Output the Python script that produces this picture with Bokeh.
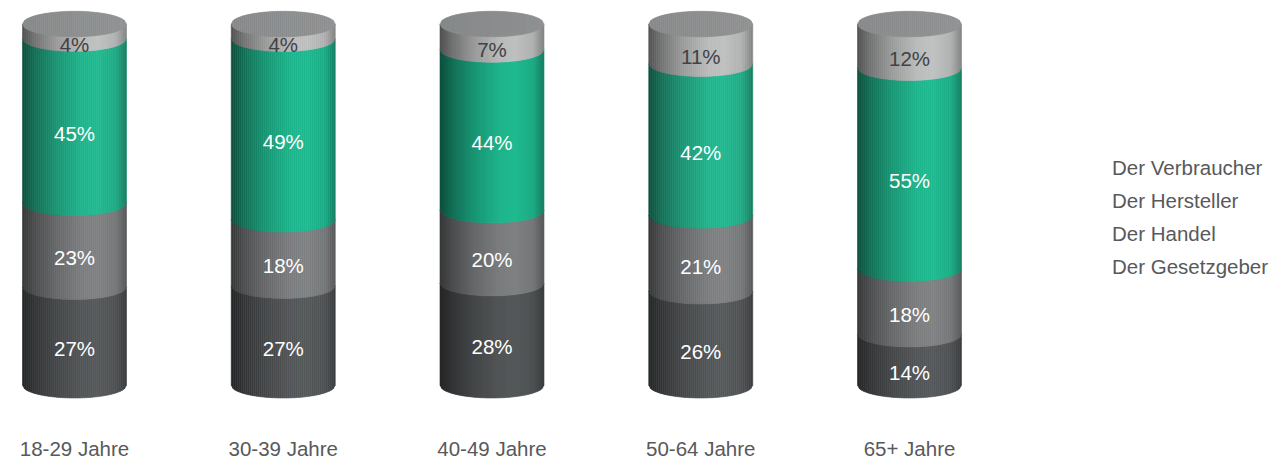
import math

from bokeh.core.properties import value
from bokeh.embed import file_html
from bokeh.models import ColumnDataSource, FixedTicker, Legend, LegendItem, Range1d
from bokeh.plotting import figure
from bokeh.resources import INLINE

age_groups = ["18-29 Jahre", "30-39 Jahre", "40-49 Jahre", "50-64 Jahre", "65+ Jahre"]
series_names = ["Der Gesetzgeber", "Der Handel", "Der Hersteller", "Der Verbraucher"]
gesetzgeber = [27, 27, 28, 26, 14]
handel = [23, 18, 20, 21, 18]
hersteller = [45, 49, 44, 42, 55]
verbraucher = [4, 4, 7, 11, 12]
series_values = [gesetzgeber, handel, hersteller, verbraucher]

series_colors = ["#55585a", "#7f8183", "#1fba90", "#bfc0c0"]
legend_colors = ["#58595b", "#7b7c7e", "#1fba90", "#b4b6b6"]
label_colors = ["#ffffff", "#ffffff", "#ffffff", "#404244"]
text_color = "#58595b"
font = "Liberation Sans"
font_px = "20.5px"

WIDTH, HEIGHT = 1271, 462
FRAME_H = 430
PX_PER_GROUP = 208.75
PX_PER_PCT = 3.69
FIRST_CENTER_PX = 74
ZERO_PX = 393
HALF_W = 52 / PX_PER_GROUP     # cylinder half width, in group units
CAP_B = 13 / PX_PER_PCT        # semi-minor axis of the elliptical rims, in percent
STRIPS = 52

# brightness across a cylinder, from left rim to right rim
SHADE = [(-1.0, 0.42), (-0.75, 0.60), (-0.35, 0.80), (0.15, 0.97),
         (0.45, 1.0), (0.8, 0.92), (1.0, 0.68)]


def shade(u):
    for (u0, s0), (u1, s1) in zip(SHADE, SHADE[1:]):
        if u <= u1:
            return s0 + (s1 - s0) * (u - u0) / (u1 - u0)
    return SHADE[-1][1]


def tint(color, factor):
    rgb = [int(color[i:i + 2], 16) for i in (1, 3, 5)]
    return "#%02x%02x%02x" % tuple(min(255, round(c * factor)) for c in rgb)


def rim(u):
    return CAP_B * math.sqrt(max(0.0, 1 - u * u))


p = figure(
    width=WIDTH, height=HEIGHT, output_backend="svg", toolbar_location=None,
    x_range=Range1d(-FIRST_CENTER_PX / PX_PER_GROUP, (WIDTH - FIRST_CENTER_PX) / PX_PER_GROUP),
    y_range=Range1d(-(FRAME_H - ZERO_PX) / PX_PER_PCT, ZERO_PX / PX_PER_PCT),
    min_border=0, min_border_bottom=HEIGHT - FRAME_H, outline_line_color=None,
    background_fill_color="white", border_fill_color="white",
)
p.grid.visible = False
p.yaxis.visible = False

xs, ys, fills = [], [], []
label_x, label_y, label_text, label_color = [], [], [], []

for g in range(len(age_groups)):
    values = [s[g] for s in series_values]
    total = sum(values)
    base = 0.0
    for k, v in enumerate(values):
        top = base + v * 100 / total
        for i in range(STRIPS):
            u0 = -1 + 2 * i / STRIPS
            u1 = -1 + 2 * (i + 1) / STRIPS
            x0, x1 = g + u0 * HALF_W, g + u1 * HALF_W
            xs.append([x0, x1, x1, x0])
            ys.append([base - rim(u0), base - rim(u1), top - rim(u1), top - rim(u0)])
            fills.append(tint(series_colors[k], shade((u0 + u1) / 2)))
        label_x.append(g)
        label_y.append((base + top) / 2 - CAP_B)
        label_text.append(f"{v}%")
        label_color.append(label_colors[k])
        base = top
    # top cap of the cylinder
    for i in range(STRIPS):
        u0 = -1 + 2 * i / STRIPS
        u1 = -1 + 2 * (i + 1) / STRIPS
        x0, x1 = g + u0 * HALF_W, g + u1 * HALF_W
        xs.append([x0, x1, x1, x0])
        ys.append([100 - rim(u0), 100 - rim(u1), 100 + rim(u1), 100 + rim(u0)])
        fills.append(tint("#8f9192", 0.97 + 0.03 * (u0 + u1) / 2))

p.patches(xs="xs", ys="ys", fill_color="fills", line_color="fills", line_width=0.6,
          source=ColumnDataSource(dict(xs=xs, ys=ys, fills=fills)))

p.text(x="x", y="y", text="t", text_color="c", text_align="center", text_baseline="middle",
       text_font=value(font), text_font_size=value(font_px),
       source=ColumnDataSource(dict(x=label_x, y=label_y, t=label_text, c=label_color)))

# category labels along the bottom
axis = p.xaxis[0]
axis.ticker = FixedTicker(ticks=list(range(len(age_groups))))
axis.major_label_overrides = dict(enumerate(age_groups))
axis.axis_line_color = None
axis.major_tick_line_color = None
axis.minor_tick_line_color = None
axis.major_label_standoff = 9
axis.major_label_text_font = font
axis.major_label_text_font_size = font_px
axis.major_label_text_color = text_color

# legend swatches come from empty quads, listed top series first
items = []
for name, color in reversed(list(zip(series_names, legend_colors))):
    swatch = p.quad(left=[], right=[], top=[], bottom=[], fill_color=color, line_color=None)
    items.append(LegendItem(label=name, renderers=[swatch]))

legend = Legend(
    items=items, location=(1098, FRAME_H - 288), padding=0, margin=0, spacing=9,
    glyph_width=10, glyph_height=11, label_height=24, label_standoff=4,
    label_text_font=font, label_text_font_size=font_px, label_text_color=text_color,
    label_text_baseline="middle", background_fill_alpha=0, border_line_color=None,
)
p.add_layout(legend)

open("out.html", "w").write(file_html(p, INLINE))
